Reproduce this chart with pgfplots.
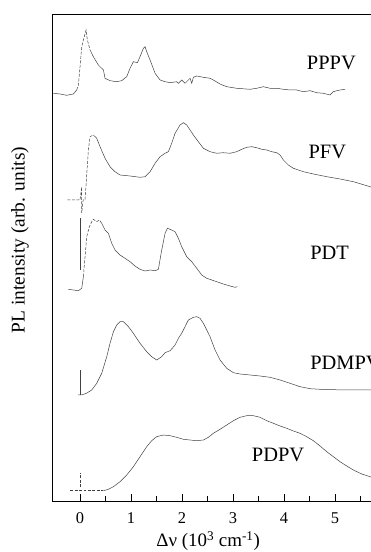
\documentclass[border=0pt]{standalone}
\usepackage{fontspec}
\setmainfont{Liberation Serif}
\usepackage{pgfplots}
\pgfplotsset{compat=1.18}
\begin{document}
\begin{tikzpicture}
\begin{axis}[
  scale only axis,
  width=323.85bp, height=487bp,
  xmin=-0.55, xmax=5.8, ymin=0, ymax=487,
  xtick={0,1,2,3,4,5},
  minor xtick={0.5,1.5,2.5,3.5,4.5,5.5},
  ytick=\empty,
  xtick pos=bottom,
  tick align=inside,
  major tick length=7bp, minor tick length=4.5bp,
  every tick/.style={black, line width=0.6pt},
  axis line style={line width=0.6pt},
  /pgf/number format/assume math mode=true,
  xticklabel style={font=\fontsize{16.5}{16.5}\selectfont, anchor=base, yshift=-22bp},
  xlabel={Δν (10\textsuperscript{3} cm\textsuperscript{-1})},
  xlabel style={at={(axis description cs:0.482,0)}, anchor=center, yshift=-40bp, font=\fontsize{19}{19}\selectfont},
  ylabel={PL intensity (arb. units)},
  ylabel style={at={([xshift=-32bp]axis description cs:0,0.536)}, anchor=center, font=\fontsize{19.5}{19.5}\selectfont},
  curve/.style={black!75, line width=0.5pt, no markers, solid},
  dcurve/.style={black!75, line width=0.5pt, no markers, dash pattern=on 3pt off 1.5pt},
  clip=true,
]
% PPPV
\addplot[curve] coordinates {(-0.523,407.7) (-0.392,407) (-0.261,405.7) (-0.131,407) (-0.065,411)};
\addplot[dcurve] coordinates {(-0.065,411) (-0.033,416) (0,434.3) (0.033,454.3) (0.065,461) (0.118,471) (0.144,461) (0.196,451)};
\addplot[curve] coordinates {(0.196,451) (0.261,444.3) (0.359,436) (0.458,431) (0.490,422.7) (0.588,420.3) (0.719,419.3) (0.817,420.3) (0.915,424.3) (0.980,432.7) (1.046,439.3) (1.124,438.3) (1.176,444.3) (1.242,452.7) (1.275,454.3) (1.307,449.3) (1.373,441) (1.471,427.7) (1.569,421) (1.667,419.3) (1.765,418.3) (1.895,419.3) (1.928,417.7) (1.993,421) (2.059,417.7) (2.157,422.7) (2.190,417.7) (2.222,423.7) (2.288,425) (2.418,423.7) (2.549,422.7) (2.614,421) (2.745,417) (2.876,414.3) (3.072,412.7) (3.333,411.7) (3.464,412.7) (3.595,414.3) (3.725,412.7) (3.856,412.7) (3.987,411.7) (4.118,411) (4.248,411) (4.379,409.3) (4.510,410.3) (4.641,408.3) (4.771,407.7) (4.902,406) (4.967,409.3) (5.033,410.3) (5.098,411) (5.196,411.7)};
% PFV
\addplot[dcurve] coordinates {(-0.25,301) (-0.1,301) (0.0,301) (0.033,314) (0.033,288) (0.06,301) (0.098,301) (0.163,351) (0.196,364.3) (0.261,366)};
\addplot[curve] coordinates {(0.261,366) (0.327,362.7) (0.392,354.3) (0.490,342.7) (0.588,334.3) (0.686,329.3) (0.784,326) (0.980,325) (1.176,323.7) (1.275,324.3) (1.373,329.3) (1.471,337.7) (1.569,344.3) (1.667,347.7) (1.732,349.3) (1.797,357.7) (1.863,367.7) (1.961,376) (2.026,378.3) (2.092,376) (2.157,371) (2.222,366) (2.320,359.3) (2.418,352.7) (2.549,349.3) (2.680,347.7) (2.810,348.3) (2.941,347.7) (3.072,349.3) (3.170,351.7) (3.268,353.7) (3.366,354.3) (3.464,353.3) (3.562,351.7) (3.660,351) (3.758,349.3) (3.856,348.3) (3.922,346) (3.987,341) (4.085,336) (4.183,332.7) (4.379,329.3) (4.575,327) (4.837,324.3) (5.098,322) (5.359,319.3) (5.686,314.3) (5.8,312)};
% PDT
\addplot[curve] coordinates {(-0.229,211.7) (-0.131,211) (-0.033,210.3) (0.033,212.7) (0.065,224.3)};
\addplot[dcurve] coordinates {(0.065,224.3) (0.098,244.3) (0.131,264.3) (0.183,274.3) (0.229,279.3) (0.261,281.7) (0.327,279.3) (0.379,281) (0.425,277.7)};
\addplot[curve] coordinates {(0.425,277.7) (0.490,271) (0.556,267.7) (0.621,257.7) (0.686,251) (0.784,246) (0.882,242.7) (0.980,239.3) (1.078,235) (1.176,231.7) (1.275,230) (1.373,231) (1.471,230.3) (1.536,231.7) (1.601,251) (1.667,267.7) (1.712,272.7) (1.765,271.7) (1.863,269.3) (1.928,262.7) (1.993,254.3) (2.092,244.3) (2.190,239.3) (2.288,232.7) (2.386,226) (2.484,222.7) (2.582,221) (2.680,219.3) (2.810,217) (2.941,215) (3.039,213.7) (3.085,214.3)};
\addplot[curve] coordinates {(0,231) (0,283)};
% PDMPV
\addplot[curve] coordinates {(0.013,106) (0.013,131)};
\addplot[curve] coordinates {(-0.039,106) (0.026,106) (0.124,107.7) (0.229,111) (0.327,117.7) (0.425,127.7) (0.523,144.3) (0.588,157.7) (0.654,169.3) (0.719,176) (0.784,179.3) (0.850,179.3) (0.948,174.3) (1.046,167.7) (1.176,157.7) (1.307,149.3) (1.405,144.3) (1.503,141) (1.601,144.3) (1.667,148.3) (1.765,150.3) (1.863,156) (1.928,162.7) (1.993,167.7) (2.059,174.3) (2.124,181) (2.222,183.7) (2.288,184.3) (2.353,182.7) (2.418,177.7) (2.484,171) (2.549,164.3) (2.647,151) (2.745,141) (2.876,132.7) (3.007,128.3) (3.137,127) (3.333,126) (3.529,125) (3.725,123.7) (3.922,121) (4.118,117.7) (4.314,114.3) (4.510,112.3) (4.706,111.7) (4.967,111.3) (5.294,111) (5.8,111)};
% PDPV
\addplot[dcurve] coordinates {(-0.196,10.3) (0.458,10.3)};
\addplot[dcurve] coordinates {(0.013,13.7) (0.013,27.7)};
\addplot[curve] coordinates {(0.458,10.3) (0.556,11.7) (0.654,14.3) (0.784,19.3) (0.915,26) (1.046,34.3) (1.176,44.3) (1.307,54.3) (1.405,60.3) (1.503,64.3) (1.634,66) (1.765,65.3) (1.895,63.7) (2.026,61.7) (2.157,61) (2.288,60.3) (2.418,61) (2.516,63.7) (2.614,67.7) (2.745,71.7) (2.876,76) (3.007,80.3) (3.137,83.7) (3.268,85.3) (3.399,85.3) (3.529,83.7) (3.660,80.3) (3.791,77.7) (3.922,75) (4.052,72.7) (4.183,70) (4.314,67.7) (4.444,64.3) (4.575,60.3) (4.706,55) (4.837,49.3) (4.967,44.3) (5.098,39.3) (5.229,35) (5.359,31) (5.523,27) (5.686,24.3) (5.8,22.5)};
% labels
\node[anchor=base west, inner sep=0, font=\fontsize{20.5}{20.5}\selectfont] at (axis cs:4.445,431.7) {PPPV};
\node[anchor=base west, inner sep=0, font=\fontsize{20.5}{20.5}\selectfont] at (axis cs:4.477,342.7) {PFV};
\node[anchor=base west, inner sep=0, font=\fontsize{20.5}{20.5}\selectfont] at (axis cs:4.51,241) {PDT};
\node[anchor=base west, inner sep=0, font=\fontsize{20.5}{20.5}\selectfont] at (axis cs:4.51,131) {PDMPV};
\node[anchor=base west, inner sep=0, font=\fontsize{20.5}{20.5}\selectfont] at (axis cs:3.367,39.3) {PDPV};
\end{axis}
\pgfresetboundingbox
\path (-52bp,-51bp) rectangle (319bp,501bp);
\end{tikzpicture}
\end{document}
